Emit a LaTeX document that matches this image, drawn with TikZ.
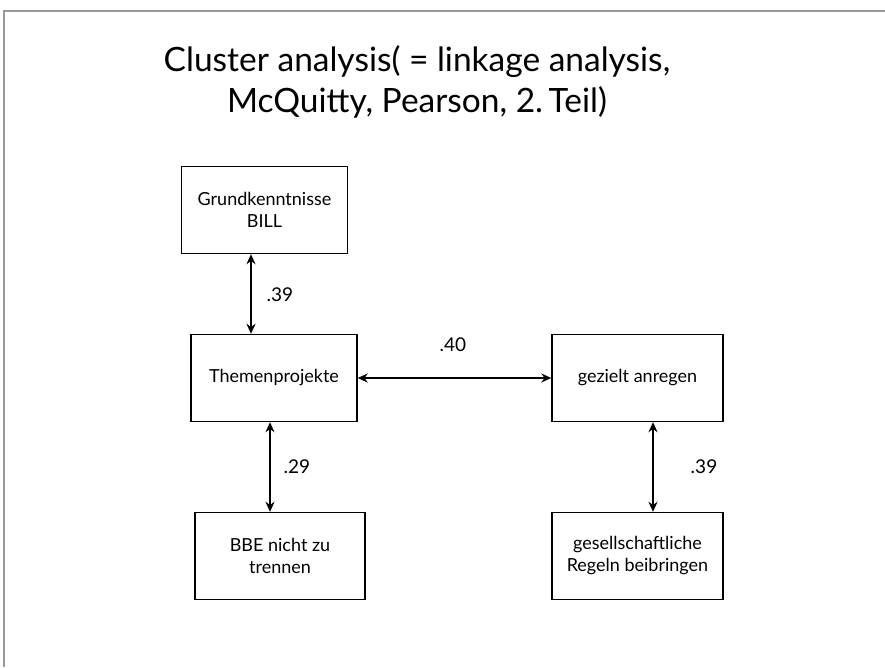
\documentclass[tikz,border=0pt]{standalone}
\usepackage{fontspec}
\setmainfont{Lato}
\usepackage{tikz}
\usetikzlibrary{arrows.meta,positioning}

\begin{document}
\begin{tikzpicture}[x=1pt,y=-1pt,
    box/.style={draw,line width=1.4pt,minimum width=166pt,minimum height=87pt,
        align=center,font=\fontsize{18}{22}\selectfont},
    link/.style={line width=2pt,{Stealth[length=10pt,width=9pt]}-{Stealth[length=10pt,width=9pt]}},
    weight/.style={font=\fontsize{19}{22}\selectfont}]
    \useasboundingbox (0,0) rectangle (885,667);
    \draw[gray!80,line width=1.5pt] (885,11) -- (4,11) -- (4,667);

    % title
    \node[align=center,font=\fontsize{33.5}{41}\selectfont] (title) at (417,82)
        {Cluster analysis( = linkage analysis,\\McQuitty, Pearson, 2.\,Teil)};

    % boxes
    \node[box] (grund) at (264.5,210) {Grundkenntnisse\\BILL};
    \node[box] (themen) at (274,378) {Themenprojekte};
    \node[box,minimum width=170pt] (bbe) at (280,556) {BBE nicht zu\\trennen};
    \node[box,minimum width=171pt] (anregen) at (637.5,378) {gezielt anregen};
    \node[box,minimum width=171pt] (regeln) at (637.5,556) {gesellschaftliche\\Regeln beibringen};

    % links
    \draw[link] ([xshift=-13.5pt]grund.south) -- ([xshift=-13.5pt]grund.south |- themen.north);
    \draw[link] (themen.east) -- (anregen.west);
    \draw[link] ([xshift=-4pt]themen.south) -- ([xshift=-4pt]themen.south |- bbe.north);
    \draw[link] ([xshift=15.5pt]anregen.south) -- ([xshift=15.5pt]anregen.south |- regeln.north);

    \node[weight] (w1) at (280,295) {.39};
    \node[weight] (w2) at (453,345) {.40};
    \node[weight] (w3) at (297,467) {.29};
    \node[weight] (w4) at (704,467) {.39};
\end{tikzpicture}
\end{document}
